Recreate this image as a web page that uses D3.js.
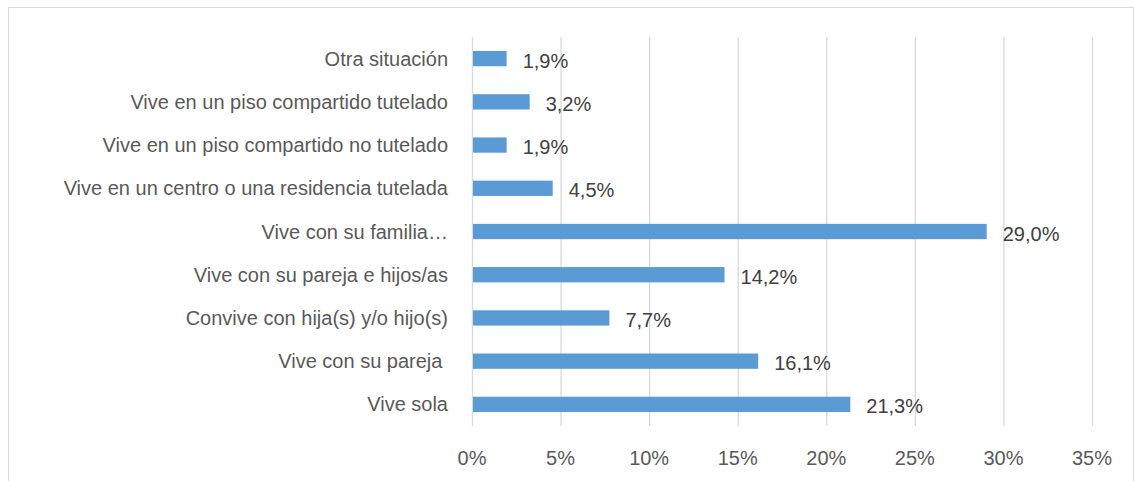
<!DOCTYPE html>
<html>
<head>
<meta charset="utf-8">
<script src="https://cdn.jsdelivr.net/npm/d3@7"></script>
<style>
  body { margin: 0; background: #fff; }
  text { font-family: "Liberation Sans", Arial, sans-serif; fill: #595959; white-space: pre; }
</style>
</head>
<body>
<div id="chart"></div>
<script>
const categories = [
  "Otra situación",
  "Vive en un piso compartido tutelado",
  "Vive en un piso compartido no tutelado",
  "Vive en un centro o una residencia tutelada",
  "Vive con su familia…",
  "Vive con su pareja e hijos/as",
  "Convive con hija(s) y/o hijo(s)",
  "Vive con su pareja ",
  "Vive sola"
];
const values = [1.9, 3.2, 1.9, 4.5, 29.0, 14.2, 7.7, 16.1, 21.3];
const ticks = [0, 5, 10, 15, 20, 25, 30, 35];

const width = 1134, height = 481;
const margin = {left: 472, right: 42, top: 37, bottom: 55};

const svg = d3.select("#chart").append("svg")
  .attr("width", width)
  .attr("height", height);

// frame
svg.append("rect")
  .attr("x", 8.5).attr("y", 7.5)
  .attr("width", width - 9).attr("height", height - 7)
  .attr("fill", "none")
  .attr("stroke", "#d9d9d9");

const x = d3.scaleLinear().domain([0, 35]).range([margin.left, width - margin.right]);
const y = d3.scaleBand().domain(categories)
  .range([margin.top, height - margin.bottom])
  .paddingInner(0.646).paddingOuter(0.323);

// gridlines
svg.append("g").selectAll("line").data(ticks).join("line")
  .attr("x1", d => x(d) + 0.5).attr("x2", d => x(d) + 0.5)
  .attr("y1", margin.top).attr("y2", height - margin.bottom)
  .attr("stroke", "#d9d9d9").attr("stroke-width", 1.3);

// tick labels
svg.append("g").selectAll("text").data(ticks).join("text")
  .attr("x", d => x(d))
  .attr("y", 465)
  .attr("text-anchor", "middle")
  .style("font-size", "20px")
  .text(d => d + "%");

// bars
svg.append("g").selectAll("rect").data(values).join("rect")
  .attr("x", x(0) + 1)
  .attr("y", (d, i) => y(categories[i]))
  .attr("width", d => x(d) - x(0))
  .attr("height", y.bandwidth())
  .attr("fill", "#5b9bd5");

// value labels
svg.append("g").selectAll("text").data(values).join("text")
  .attr("x", d => x(d) + 17)
  .attr("y", (d, i) => y(categories[i]) + y.bandwidth() / 2 + 9)
  .style("font-size", "20px")
  .style("fill", "#404040")
  .text(d => d.toFixed(1).replace(".", ",") + "%");

// category labels
svg.append("g").selectAll("text").data(categories).join("text")
  .attr("x", 448)
  .attr("y", d => y(d) + y.bandwidth() / 2 + 7)
  .attr("text-anchor", "end")
  .style("font-size", "20px")
  .text(d => d);
</script>
</body>
</html>
